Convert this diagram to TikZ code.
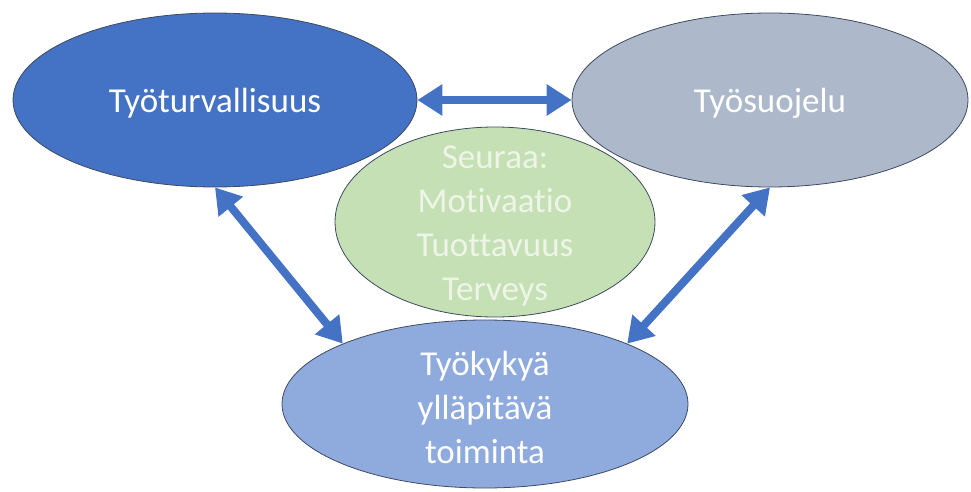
\documentclass[tikz,border=0pt]{standalone}
\usepackage{fontspec}
\setmainfont{Carlito}[Ligatures=NoCommon]
\usetikzlibrary{shapes.geometric,arrows.meta}

\definecolor{darkblue}{RGB}{68,114,196}
\definecolor{greyblue}{RGB}{173,185,202}
\definecolor{lightgreen}{RGB}{197,224,180}
\definecolor{midblue}{RGB}{143,170,220}
\definecolor{rimline}{RGB}{62,74,96}
\definecolor{paletext}{RGB}{238,245,232}

\tikzset{
  blob/.style={ellipse, draw=rimline, line width=0.8pt, inner sep=-40pt,
    align=center, text=white, font=\fontsize{35}{44}\selectfont},
  link/.style={line width=8pt, draw=darkblue,
    {Triangle[length=25pt,width=30pt]}-{Triangle[length=25pt,width=30pt]}}
}

\begin{document}
\begin{tikzpicture}[x=1pt,y=-1pt]
  \useasboundingbox (0,0) rectangle (971,492);

  % three areas of work safety
  \node[blob, fill=darkblue, minimum width=404pt, minimum height=174pt]
    (turva) at (215,100) {\rule{0pt}{31pt}Työturvallisuus};
  \node[blob, fill=greyblue, minimum width=396pt, minimum height=174pt]
    (suojelu) at (770,100) {\rule{0pt}{31pt}Työsuojelu};

  % outcomes in the middle
  \node[blob, fill=lightgreen, text=paletext, minimum width=320pt, minimum height=190pt]
    (seuraa) at (495,222) {\rule{0pt}{31pt}Seuraa:\\Motivaatio\\Tuottavuus\\Terveys};

  \node[blob, fill=midblue, minimum width=406pt, minimum height=168pt]
    (tyokyky) at (485,404) {\rule{0pt}{32pt}Työkykyä\\ylläpitävä\\toiminta};

  % two-way links
  \draw[link] (turva.east) -- (suojelu.west);
  \draw[link] (turva.south) -- (tyokyky.157);
  \draw[link] (suojelu.south) -- (tyokyky.23);
\end{tikzpicture}
\end{document}
